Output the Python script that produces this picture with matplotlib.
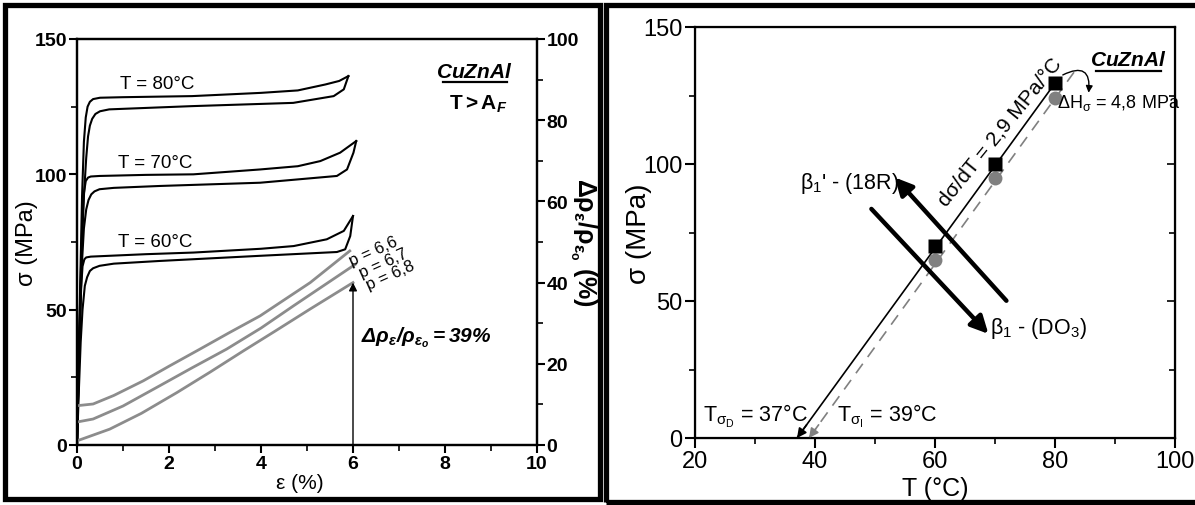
import matplotlib
matplotlib.use('Agg')
import matplotlib.pyplot as plt
from matplotlib.patches import Rectangle

font = 'Liberation Sans'
plt.rcParams['font.family'] = [font, 'DejaVu Sans']
plt.rcParams['mathtext.fontset'] = 'custom'
plt.rcParams['mathtext.rm'] = font
plt.rcParams['mathtext.it'] = font + ':italic'
plt.rcParams['mathtext.bf'] = font + ':bold'
plt.rcParams['mathtext.bfit'] = font + ':bold:italic'
plt.rcParams['mathtext.sf'] = font

# ---- left panel data: stress-strain (MPa vs %) ----
e80_load = [0, 0.03, 0.07, 0.11, 0.15, 0.19, 0.23, 0.28, 0.35, 0.5, 1.0, 2.5, 4.0, 4.8, 5.4, 5.7, 5.9]
s80_load = [0, 25, 60, 92, 112, 121, 125, 126.8, 127.8, 128.3, 128.5, 128.9, 130.1, 131, 133.2, 134.5, 136.3]
e80_unload = [5.9, 5.8, 5.58, 4.7, 2.5, 0.7, 0.5, 0.4, 0.33, 0.28, 0.24, 0.2, 0.15, 0.1, 0.05, 0]
s80_unload = [136.3, 131.4, 128.9, 126.4, 125.2, 124, 123.3, 122.3, 120.5, 118, 114, 106, 92, 70, 38, 0]

e70_load = [0, 0.03, 0.07, 0.11, 0.15, 0.19, 0.24, 0.3, 0.49, 1.5, 2.53, 3.98, 4.8, 5.29, 5.72, 6.07]
s70_load = [0, 25, 55, 80, 93, 97.5, 98.8, 99.2, 99.4, 99.8, 100, 101.8, 103, 104.9, 108, 112.3]
e70_unload = [6.07, 6.01, 5.87, 5.65, 3.98, 1.8, 0.8, 0.49, 0.38, 0.31, 0.25, 0.2, 0.15, 0.1, 0.05, 0]
s70_unload = [112.3, 108, 101.8, 99.4, 96.9, 95.7, 95, 94.5, 93.7, 92.6, 90.5, 87, 80, 65, 38, 0]

e60_load = [0, 0.03, 0.06, 0.09, 0.12, 0.16, 0.2, 0.3, 1.5, 2.53, 4.0, 4.71, 5.43, 5.8, 6.0]
s60_load = [0, 22, 42, 58, 66, 68.6, 69.3, 69.6, 70.5, 71.1, 72.5, 73.5, 76, 79.1, 84.6]
e60_unload = [6.0, 5.94, 5.83, 5.65, 3.98, 1.8, 0.8, 0.49, 0.35, 0.28, 0.22, 0.17, 0.12, 0.08, 0.04, 0]
s60_unload = [84.6, 77.2, 72.3, 71.3, 69.9, 68, 67, 66.2, 65.3, 64.3, 62, 58.8, 50, 38, 20, 0]

# resistivity change (%) vs strain
e_p66 = [0.02, 0.35, 0.8, 1.44, 2.0, 2.67, 3.3, 3.98, 5.07, 5.93]
r_p66 = [9.7, 10.1, 12.2, 15.8, 19.4, 23.6, 27.6, 31.8, 40.0, 47.8]
e_p67 = [0.02, 0.35, 1.0, 1.8, 2.5, 3.25, 4.0, 4.71, 6.05]
r_p67 = [5.7, 6.4, 9.6, 14.6, 19.0, 23.6, 28.8, 34.3, 44.5]
e_p68 = [0.02, 0.71, 1.4, 2.17, 2.9, 3.62, 4.3, 5.07, 6.0]
r_p68 = [1.1, 3.9, 7.8, 12.9, 18.0, 23.2, 28.0, 33.5, 40.0]
p_labels = ['p = 6,6', 'p = 6,7', 'p = 6,8']

# ---- right panel data: critical stress vs temperature ----
temp = [60, 70, 80]
sig_forward = [70, 100, 129.5]
sig_reverse = [65, 95, 124]
fit_T_fwd = [37, 80.5]
fit_s_fwd = [0, 131]
fit_T_rev = [39, 83.5]
fit_s_rev = [0, 134.5]

W, H = 1195, 506
fig = plt.figure(figsize=(W / 100, H / 100), dpi=100)

def fx(px):
    return px / W

def fy(py):
    return 1 - py / H

# outer frames (right one runs off the picture on the right)
for x0, x1, yb in [(5, 600, 500), (606, 1202, 503)]:
    fig.add_artist(Rectangle((fx(x0), fy(yb)), fx(x1) - fx(x0), fy(6) - fy(yb),
                             transform=fig.transFigure, fill=False, lw=3.8, ec='black'))

# ================= left panel =================
ax = fig.add_axes([fx(77), fy(446), fx(537) - fx(77), fy(40) - fy(446)])
ax2 = ax.twinx()

for e, s in [(e80_load, s80_load), (e80_unload, s80_unload),
             (e70_load, s70_load), (e70_unload, s70_unload),
             (e60_load, s60_load), (e60_unload, s60_unload)]:
    ax.plot(e, s, color='black', lw=1.5)

for e, r in [(e_p66, r_p66), (e_p67, r_p67), (e_p68, r_p68)]:
    ax2.plot(e, r, color='#8c8c8c', lw=2.0)

ax.set_xlim(0, 10)
ax.set_ylim(0, 150)
ax2.set_ylim(0, 100)
ax.set_xticks([0, 2, 4, 6, 8, 10])
ax.set_xticks([1, 3, 5, 7, 9], minor=True)
ax.set_yticks([0, 50, 100, 150])
ax.set_yticks([25, 75, 125], minor=True)
ax2.set_yticks([0, 20, 40, 60, 80, 100])
ax2.set_yticks([10, 30, 50, 70, 90], minor=True)
for a in (ax, ax2):
    a.tick_params(which='major', length=6, width=1.5, direction='out', labelsize=14, pad=1)
    a.tick_params(which='minor', length=4, width=1.2, direction='out')
    for sp in a.spines.values():
        sp.set_linewidth(1.6)
    for lab in a.get_xticklabels() + a.get_yticklabels():
        lab.set_fontweight('bold')

ax.set_ylabel('σ (MPa)', fontsize=17)
ax.yaxis.set_label_coords(-0.085, 0.5)
ax.set_xlabel('ε (%)', fontsize=15)
ax.xaxis.set_label_coords(0.485, -0.07)
ax2.set_ylabel(r'$\mathbf{\Delta\rho_\varepsilon/\rho_{\varepsilon_o}}$ $\mathbf{(\%)}$',
               fontsize=18, rotation=-90, va='center')
ax2.yaxis.set_label_coords(1.1, 0.5)

ax.text(1.74, 133.5, 'T = 80°C', fontsize=13.5, ha='center', va='center')
ax.text(1.69, 104.4, 'T = 70°C', fontsize=13.5, ha='center', va='center')
ax.text(1.69, 75, 'T = 60°C', fontsize=13.5, ha='center', va='center')

for (x, y), lab in zip([(6.44, 47.8), (6.66, 44.8), (6.82, 41.9)], p_labels):
    ax2.text(x, y, lab, fontsize=12, rotation=24, ha='center', va='center')

ax2.annotate('', xy=(6, 40), xytext=(6, 0),
             arrowprops=dict(arrowstyle='-|>', color='black', lw=1.0,
                             mutation_scale=12, shrinkA=0, shrinkB=0))
ax2.text(6.17, 26.6, r'$\mathbfit{\Delta\rho_\varepsilon/\rho_{\varepsilon_o} = 39\%}$',
         fontsize=15, ha='left', va='center')

ax.text(0.864, 0.921, r'$\mathbfit{CuZnAl}$', transform=ax.transAxes,
        fontsize=15, ha='center', va='center')
ax.plot([0.795, 0.935], [0.894, 0.894], transform=ax.transAxes, color='black',
        lw=1.6, clip_on=False)
ax.text(0.872, 0.842, r'$\mathbf{T > A}_{\mathbfit{F}}$', transform=ax.transAxes,
        fontsize=15, ha='center', va='center')

# ================= right panel =================
bx = fig.add_axes([fx(695), fy(439), fx(1175) - fx(695), fy(28) - fy(439)])
bx.plot(fit_T_fwd, fit_s_fwd, color='black', lw=1.2)
bx.plot(fit_T_rev, fit_s_rev, color='#808080', lw=1.2, dashes=(7, 5))
bx.annotate('', xy=(fit_T_fwd[0], fit_s_fwd[0]), xytext=(fit_T_fwd[0] + 1.6, 4.8),
            arrowprops=dict(arrowstyle='-|>', color='black', lw=1.2,
                            mutation_scale=14, shrinkA=0, shrinkB=0))
bx.annotate('', xy=(fit_T_rev[0], fit_s_rev[0]), xytext=(fit_T_rev[0] + 1.6, 4.8),
            arrowprops=dict(arrowstyle='-|>', color='#808080', lw=1.2,
                            mutation_scale=14, shrinkA=0, shrinkB=0))
bx.plot(temp, sig_reverse, 'o', color='#808080', ms=10, mec='none')
bx.plot(temp, sig_forward, 's', color='black', ms=10, mec='none')

bx.set_xlim(20, 100)
bx.set_ylim(0, 150)
bx.set_xticks([20, 40, 60, 80, 100])
bx.set_xticks([30, 50, 70, 90], minor=True)
bx.set_yticks([0, 50, 100, 150])
bx.set_yticks([25, 75, 125], minor=True)
bx.tick_params(which='major', length=7, width=1.5, direction='out', labelsize=17, pad=2)
bx.tick_params(which='minor', length=4, width=1.2, direction='out')
for sp in bx.spines.values():
    sp.set_linewidth(1.6)
bx.set_ylabel('σ (MPa)', fontsize=20)
bx.yaxis.set_label_coords(-0.09, 0.5)
bx.set_xlabel('T (°C)', fontsize=18)
bx.xaxis.set_label_coords(0.5, -0.093)

# inward ticks on the right spine
bxr = bx.twinx()
bxr.set_ylim(0, 150)
bxr.set_yticks([0, 50, 100, 150])
bxr.set_yticks([25, 75, 125], minor=True)
bxr.tick_params(which='both', direction='in', labelright=False, width=1.2)
bxr.tick_params(which='major', length=6)
bxr.tick_params(which='minor', length=4)

# thick transformation arrows
bx.annotate('', xy=(53.3, 95.1), xytext=(71.9, 50.1),
            arrowprops=dict(arrowstyle='-|>', color='black', lw=3.2,
                            mutation_scale=26, shrinkA=0, shrinkB=0))
bx.annotate('', xy=(68.9, 38), xytext=(49.4, 83.6),
            arrowprops=dict(arrowstyle='-|>', color='black', lw=3.2,
                            mutation_scale=26, shrinkA=0, shrinkB=0))
bx.text(37.5, 93.4, r"$\mathrm{\beta}_1$' - (18R)", fontsize=15.5, ha='left', va='center')
bx.text(69.2, 40.5, r"$\mathrm{\beta}_1$ - (DO$_3$)", fontsize=15.5, ha='left', va='center')

bx.text(70.8, 112, 'dσ/dT = 2,9 MPa/°C', fontsize=15, rotation=51,
        ha='center', va='center', rotation_mode='anchor')
bx.annotate('', xy=(85.6, 126), xytext=(81.3, 132.5),
            arrowprops=dict(arrowstyle='-|>', color='black', lw=1.0,
                            connectionstyle='arc3,rad=-0.9', mutation_scale=10,
                            shrinkA=0, shrinkB=0))
bx.text(80.3, 122.6, r'$\Delta$H$_{\mathrm{\sigma}}$ = 4,8 MPa', fontsize=13,
        ha='left', va='center')
bx.text(0.902, 0.92, r'$\mathbfit{CuZnAl}$', transform=bx.transAxes,
        fontsize=15, ha='center', va='center')
bx.plot([0.835, 0.97], [0.893, 0.893], transform=bx.transAxes, color='black',
        lw=1.6, clip_on=False)

bx.text(21.3, 8.4, r'T$_{\mathrm{\sigma_D}}$ = 37°C', fontsize=15.5, ha='left', va='center')
bx.text(43.7, 8.4, r'T$_{\mathrm{\sigma_I}}$ = 39°C', fontsize=15.5, ha='left', va='center')

fig.savefig('out.png', dpi=100)
